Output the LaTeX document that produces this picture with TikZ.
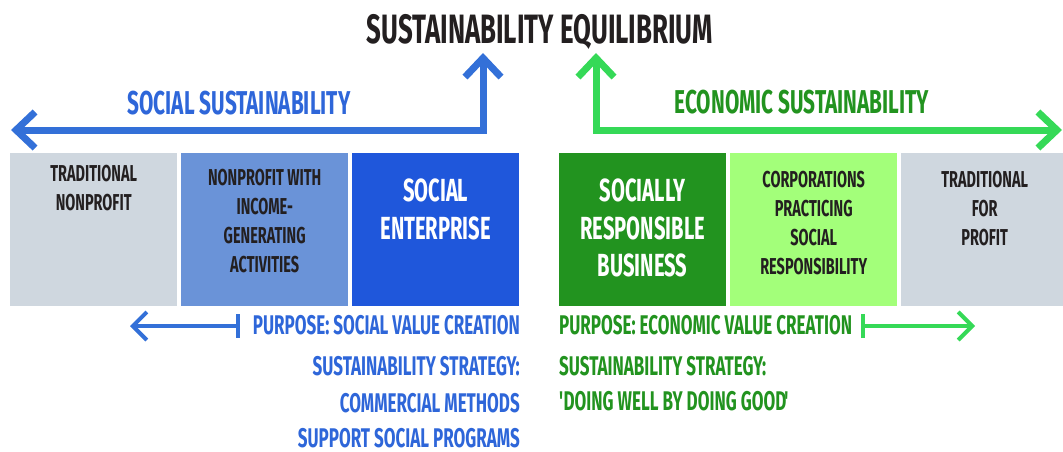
\documentclass[tikz,border=0pt]{standalone}
\usepackage{fontspec}
\setmainfont{Fira Sans}[FakeStretch=0.63]
\usetikzlibrary{arrows.meta}
\definecolor{ink}{HTML}{231F20}
\definecolor{greybox}{HTML}{CFD7DF}
\definecolor{lightblue}{HTML}{6A93D8}
\definecolor{deepblue}{HTML}{1F57DB}
\definecolor{deepgreen}{HTML}{22931F}
\definecolor{lightgreen}{HTML}{A3FF7A}
\definecolor{bluetext}{HTML}{2E66D9}
\definecolor{bluearrow}{HTML}{3370D8}
\definecolor{greenarrow}{HTML}{35D957}
\begin{document}
\begin{tikzpicture}[x=1pt,y=-1pt,
  catbox/.style={draw=none, minimum width=167pt, minimum height=153pt, inner sep=0pt, anchor=north west},
  smalltxt/.style={anchor=north, inner sep=0pt, align=center, text=ink, font=\bfseries\fontsize{23}{29}\selectfont},
  bigtxt/.style={anchor=north, inner sep=0pt, align=center, text=white, font=\bfseries\fontsize{32}{37.5}\selectfont},
  headtxt/.style={anchor=base, inner sep=0pt, font=\bfseries\fontsize{33}{36}\selectfont},
  infotxt/.style={inner sep=0pt, text depth=0pt, font=\bfseries\fontsize{27}{30}\selectfont},
  bigarrow/.style={line width=7pt, line join=miter, {Straight Barb[length=19pt,width=36pt]}-{Straight Barb[length=19pt,width=36pt]}},
  smallarrow/.style={line width=4pt, {Bar[width=24pt]}-{Straight Barb[length=14pt,width=28pt]}}
]
\useasboundingbox (0,0) rectangle (1063,452);

% title
\node[anchor=base, inner sep=0pt, text=ink, font=\bfseries\fontsize{41}{44}\selectfont] (title) at (540,44) {SUSTAINABILITY EQUILIBRIUM};

% big arrows
\coordinate (bt) at (483,53);
\coordinate (bc) at (483,130);
\coordinate (bl) at (11,130);
\draw[bigarrow, draw=bluearrow] (bl) -- (bc) -- (bt);
\coordinate (gt) at (596,53);
\coordinate (gc) at (596,130);
\coordinate (gr) at (1062,130);
\draw[bigarrow, draw=greenarrow] (gt) -- (gc) -- (gr);

\node[headtxt, text=bluetext] (soc) at (239,114) {SOCIAL SUSTAINABILITY};
\node[headtxt, text=deepgreen] (eco) at (802,113) {ECONOMIC SUSTAINABILITY};

% boxes
\node[catbox, fill=greybox] (b1) at (10,153) {};
\node[catbox, fill=lightblue] (b2) at (181,153) {};
\node[catbox, fill=deepblue] (b3) at (352,153) {};
\node[catbox, fill=deepgreen] (b4) at (559,153) {};
\node[catbox, fill=lightgreen] (b5) at (730,153) {};
\node[catbox, fill=greybox] (b6) at (901,153) {};

\node[smalltxt] (t1) at ([yshift=-12pt]b1.north) {TRADITIONAL\\NONPROFIT};
\node[smalltxt] (t2) at ([yshift=-16pt]b2.north) {NONPROFIT WITH\\INCOME-\\GENERATING\\ACTIVITIES};
\node[bigtxt] (t3) at ([yshift=-26pt]b3.north) {SOCIAL\\ENTERPRISE};
\node[bigtxt] (t4) at ([yshift=-26pt]b4.north) {SOCIALLY\\RESPONSIBLE\\BUSINESS};
\node[smalltxt] (t5) at ([yshift=-17.5pt]b5.north) {CORPORATIONS\\PRACTICING\\SOCIAL\\RESPONSIBILITY};
\node[smalltxt] (t6) at ([yshift=-17.5pt]b6.north) {TRADITIONAL\\FOR\\PROFIT};

% bottom left
\node[infotxt, anchor=base east, text=bluetext] (p1) at (520,334) {PURPOSE: SOCIAL VALUE CREATION};
\node[infotxt, anchor=base east, text=bluetext] (s1) at (520,375) {SUSTAINABILITY STRATEGY:};
\node[infotxt, anchor=base east, text=bluetext] (s2) at (520,412) {COMMERCIAL METHODS};
\node[infotxt, anchor=base east, text=bluetext] (s3) at (520,447.5) {SUPPORT SOCIAL PROGRAMS};
\coordinate (lb) at (240,326);
\coordinate (la) at (130,326);
\draw[smallarrow, draw=bluearrow] (lb) -- (la);

% bottom right
\node[infotxt, anchor=base west, text=deepgreen] (p2) at (559,334) {PURPOSE: ECONOMIC VALUE CREATION};
\node[infotxt, anchor=base west, text=deepgreen] (g1) at (559,375) {SUSTAINABILITY STRATEGY:};
\node[infotxt, anchor=base west, text=deepgreen] (g2) at (559,410) {\textquotesingle\kern-2pt DOING WELL BY DOING GOOD\kern-2pt\textquotesingle};
\coordinate (rb) at (861,326);
\coordinate (ra) at (975,326);
\draw[smallarrow, draw=greenarrow] (rb) -- (ra);
\end{tikzpicture}
\end{document}
